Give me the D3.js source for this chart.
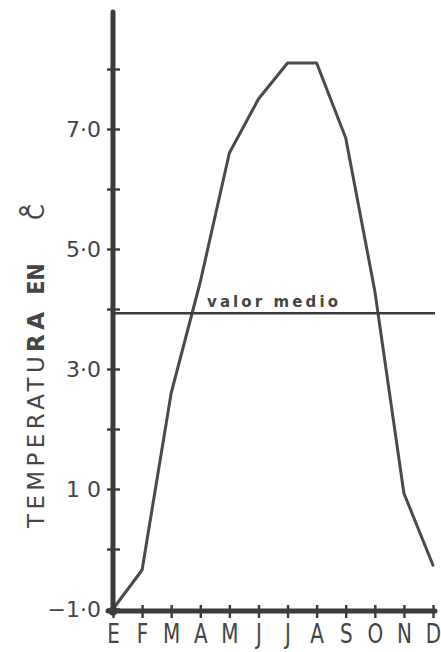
<!DOCTYPE html>
<html>
<head>
<meta charset="utf-8">
<script src="https://cdn.jsdelivr.net/npm/d3@7/dist/d3.min.js"></script>
<style>
  html, body { margin: 0; padding: 0; background: #fff; }
  svg { display: block; }
  text { font-family: "DejaVu Sans", sans-serif; fill: #454545; }
</style>
</head>
<body>
<svg id="chart" width="441" height="652"></svg>
<script>
// Monthly mean temperatures (°C), January (E) to December (D)
const months = ["E", "F", "M", "A", "M", "J", "J", "A", "S", "O", "N", "D"];
const temps = [-1.0, -0.35, 2.6, 4.45, 6.6, 7.5, 8.1, 8.1, 6.85, 4.3, 0.93, -0.27];
const meanValue = 3.93;
const meanLabel = "valor medio";

// Vertical axis: a tick every degree, labels on the odd ones
const yTickValues = [-1, 0, 1, 2, 3, 4, 5, 6, 7, 8];
const yLabelValues = [-1, 1, 3, 5, 7];
const yLabelTexts = ["\u22121\u00b70", "1 0", "3\u00b70", "5\u00b70", "7\u00b70"];

const ink = "#3b3b3b";
const svg = d3.select("#chart");

const x = d3.scalePoint()
  .domain(d3.range(months.length))
  .range([113, 433]);

const y = d3.scaleLinear()
  .domain([-1, 8.95])
  .range([609, 12]);

// Data curve
svg.append("path")
  .datum(temps)
  .attr("fill", "none")
  .attr("stroke", "#4a4a4a")
  .attr("stroke-width", 3)
  .attr("stroke-linejoin", "round")
  .attr("stroke-linecap", "round")
  .attr("d", d3.line()
    .x((d, i) => x(i))
    .y(d => y(d)));

// Mean value line and its caption
svg.append("line")
  .attr("x1", x(0)).attr("x2", 435)
  .attr("y1", y(meanValue)).attr("y2", y(meanValue))
  .attr("stroke", ink).attr("stroke-width", 2.6);

svg.append("text")
  .attr("x", 207)
  .attr("y", y(meanValue) - 6)
  .attr("font-size", 15)
  .attr("font-weight", "bold")
  .attr("textLength", 131)
  .attr("lengthAdjust", "spacing")
  .text(meanLabel);

// Y axis
const yAxis = d3.axisLeft(y)
  .tickValues(yTickValues)
  .tickSize(6)
  .tickFormat(v => {
    const k = yLabelValues.indexOf(v);
    return k >= 0 ? yLabelTexts[k] : "";
  });

const gy = svg.append("g")
  .attr("transform", `translate(${x(0)},0)`)
  .call(yAxis);
gy.select(".domain").remove();
gy.selectAll(".tick line")
  .attr("x1", -6).attr("x2", 7)
  .attr("stroke", ink).attr("stroke-width", 2.4);
gy.selectAll(".tick text")
  .attr("x", -12)
  .attr("font-size", 22)
  .attr("font-family", "DejaVu Sans, sans-serif")
  .attr("fill", "#454545");

svg.append("line")
  .attr("x1", x(0)).attr("x2", x(0))
  .attr("y1", y(8.95)).attr("y2", y(-1) + 4)
  .attr("stroke", ink).attr("stroke-width", 5)
  .attr("stroke-linecap", "round");

// X axis
const xAxis = d3.axisBottom(x)
  .tickSize(6)
  .tickFormat(i => months[i]);

const gx = svg.append("g")
  .attr("transform", `translate(0,${y(-1) + 2})`)
  .call(xAxis);
gx.select(".domain").remove();
gx.selectAll(".tick line")
  .attr("y1", -6).attr("y2", 7)
  .attr("stroke", ink).attr("stroke-width", 2.4);
gx.selectAll(".tick text")
  .attr("y", 0)
  .attr("dy", 0)
  .attr("transform", "translate(0,32) scale(0.74,1)")
  .attr("font-size", 27)
  .attr("font-family", "DejaVu Sans, sans-serif")
  .attr("fill", "#454545");

svg.append("line")
  .attr("x1", 108).attr("x2", 435)
  .attr("y1", y(-1) + 2).attr("y2", y(-1) + 2)
  .attr("stroke", ink).attr("stroke-width", 5)
  .attr("stroke-linecap", "round");

// Origin blob
svg.append("circle")
  .attr("cx", x(0)).attr("cy", y(-1) + 2)
  .attr("r", 4.5).attr("fill", ink);

// Axis title, rotated, reading upwards
const title = svg.append("g")
  .attr("transform", "translate(44,0) rotate(-90)");

const t1 = title.append("text")
  .attr("x", -528)
  .attr("y", 0)
  .attr("font-size", 23)
  .attr("textLength", 216)
  .attr("lengthAdjust", "spacing");
t1.append("tspan").text("TEMPERATU");
t1.append("tspan").attr("font-weight", "bold").text("RA");

title.append("text")
  .attr("x", -279)
  .attr("y", 0)
  .attr("text-anchor", "middle")
  .attr("font-size", 23)
  .attr("font-weight", "bold")
  .attr("textLength", 31)
  .attr("lengthAdjust", "spacingAndGlyphs")
  .text("EN");

title.append("text")
  .attr("x", -212)
  .attr("y", 0)
  .attr("text-anchor", "middle")
  .attr("font-size", 23)
  .text("C");

title.append("text")
  .attr("x", -211)
  .attr("y", -3)
  .attr("text-anchor", "middle")
  .attr("font-size", 30)
  .text("\u00b0");
</script>
</body>
</html>
